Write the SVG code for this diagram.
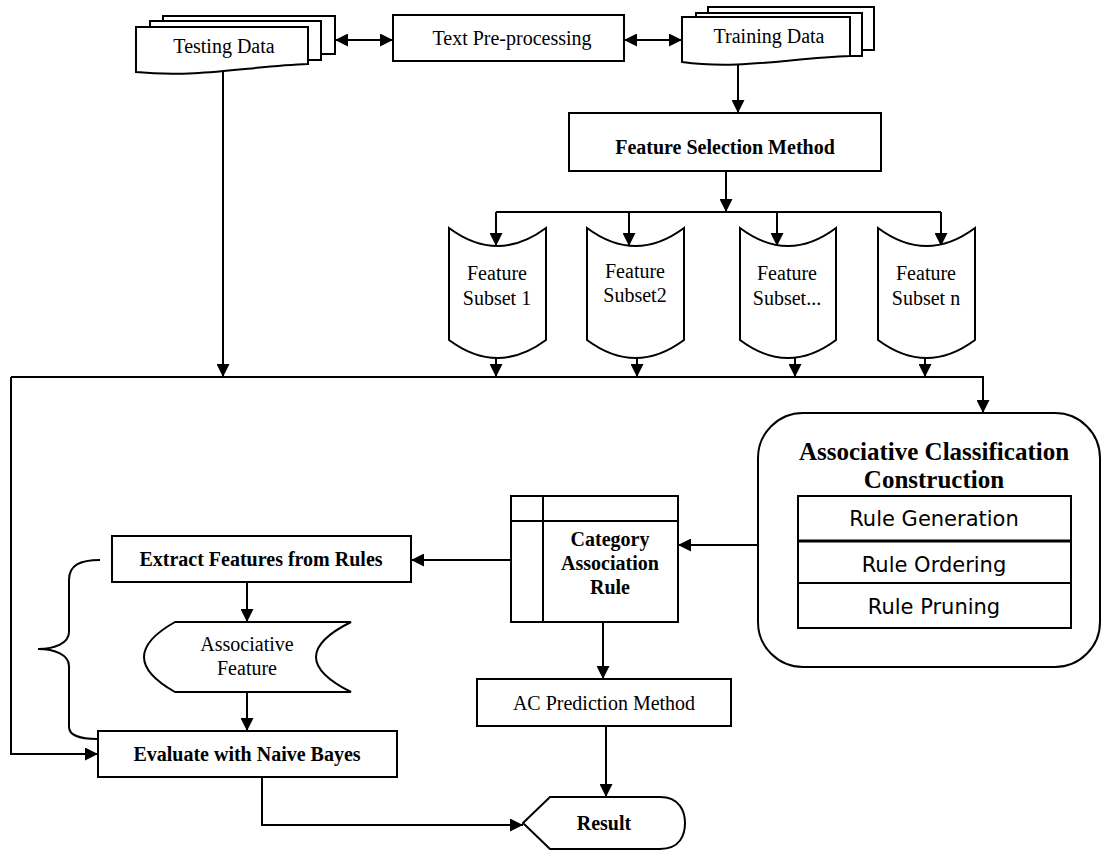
<svg xmlns="http://www.w3.org/2000/svg" width="1104" height="850" viewBox="0 0 1104 850">
<defs>
<marker id="ah" markerWidth="13" markerHeight="13" refX="13" refY="6.5" orient="auto-start-reverse" markerUnits="userSpaceOnUse"><path d="M0,0 L13,6.5 L0,13 z" fill="#000"/></marker>
<style>
.s{fill:#fff;stroke:#000;stroke-width:2}
.c{fill:none;stroke:#000;stroke-width:2}
.a{fill:none;stroke:#000;stroke-width:2;marker-end:url(#ah)}
.d{fill:none;stroke:#000;stroke-width:2;marker-start:url(#ah);marker-end:url(#ah)}
.t{font-family:"Liberation Serif","Times New Roman",serif;font-size:20px;fill:#000;text-anchor:middle}
.b{font-weight:bold}
.r{font-family:"DejaVu Sans","Open Sans",sans-serif;font-size:21px;fill:#000;text-anchor:middle}
</style>
</defs>
<rect width="1104" height="850" fill="#fff"/>
<g id="connectors">
<path class="d" d="M335,40 H393"/>
<path class="d" d="M624,40 H682"/>
<path class="a" d="M738,64 V113"/>
<path class="a" d="M726,171 V212"/>
<path class="c" d="M496,212 H941"/>
<path class="a" d="M496,212 V246"/>
<path class="a" d="M629,212 V246"/>
<path class="a" d="M777,212 V246"/>
<path class="a" d="M941,212 V246"/>
<path class="a" d="M223,72 V377"/>
<path class="a" d="M496,358 V377"/>
<path class="a" d="M637,358 V377"/>
<path class="a" d="M795,358 V377"/>
<path class="a" d="M925,358 V377"/>
<path class="a" d="M11,377 H983 V413"/>
<path class="a" d="M11,377 V754 H98"/>
<path class="a" d="M758,545 H678"/>
<path class="a" d="M511,560 H411"/>
<path class="a" d="M247,582 V622"/>
<path class="a" d="M247,692 V731"/>
<path class="a" d="M603,622 V679"/>
<path class="a" d="M606,726 V797"/>
<path class="a" d="M262,777 V825 H523"/>
<path class="c" d="M100,560 C80,560 69,565 69,580 V632 C69,643 55,649 38,649 C55,649 69,655 69,666 V727 C69,735 80,739 97,739"/>
</g>
<g id="testing-data">
<path class="s" d="M163,16 H335 V54 H163 Z"/>
<path class="s" d="M150,21 H321 V60 H150 Z"/>
<path class="s" d="M136,27 H308 V64 C250,66 200,78 136,72 Z"/>
<text class="t" x="224" y="53">Testing Data</text>
</g>
<g id="text-preprocessing">
<rect class="s" x="393" y="15" width="231" height="46"/>
<text class="t" x="512" y="45">Text Pre-processing</text>
</g>
<g id="training-data">
<path class="s" d="M708,7 H874 V50 H708 Z"/>
<path class="s" d="M696,13 H862 V56 H696 Z"/>
<path class="s" d="M682,17 H850 V56 C790,58 740,70 682,62 Z"/>
<text class="t" x="769" y="43">Training Data</text>
</g>
<g id="feature-selection">
<rect class="s" x="569" y="113" width="312" height="58"/>
<text class="t b" x="725" y="154">Feature Selection Method</text>
</g>
<g id="subset1">
<path class="s" d="M449,228 Q497.5,264 546,228 V340 Q497.5,376 449,340 Z"/>
<text class="t" x="497" y="280">Feature</text>
<text class="t" x="497" y="305">Subset 1</text>
</g>
<g id="subset2">
<path class="s" d="M587,228 Q635.5,264 684,228 V340 Q635.5,376 587,340 Z"/>
<text class="t" x="635" y="278">Feature</text>
<text class="t" x="635" y="302">Subset2</text>
</g>
<g id="subset3">
<path class="s" d="M740,228 Q788,264 836,228 V340 Q788,376 740,340 Z"/>
<text class="t" x="787" y="280">Feature</text>
<text class="t" x="787" y="305">Subset...</text>
</g>
<g id="subsetn">
<path class="s" d="M878,228 Q926.5,264 975,228 V340 Q926.5,376 878,340 Z"/>
<text class="t" x="926" y="280">Feature</text>
<text class="t" x="926" y="305">Subset n</text>
</g>
<g id="ac-construction">
<rect class="s" x="758" y="413" width="342" height="254" rx="45" ry="45"/>
<text class="t b" x="934" y="460" style="font-size:25px">Associative Classification</text>
<text class="t b" x="934" y="488" style="font-size:25px">Construction</text>
<rect class="s" x="798" y="496" width="273" height="132"/>
<path class="c" d="M798,541 H1071" style="stroke-width:3"/>
<path class="c" d="M798,583 H1071"/>
<text class="r" x="934" y="526">Rule Generation</text>
<text class="r" x="934" y="572">Rule Ordering</text>
<text class="r" x="934" y="614">Rule Pruning</text>
</g>
<g id="car">
<rect class="s" x="511" y="496" width="167" height="126"/>
<path class="c" d="M543,496 V622 M511,521 H678"/>
<text class="t b" x="610" y="546">Category</text>
<text class="t b" x="610" y="570">Association</text>
<text class="t b" x="610" y="594">Rule</text>
</g>
<g id="extract">
<rect class="s" x="112" y="536" width="299" height="46"/>
<text class="t b" x="261" y="566">Extract Features from Rules</text>
</g>
<g id="assoc-feature">
<path class="s" d="M175,622 H351 Q281,657 351,692 H175 Q113,657 175,622 Z"/>
<text class="t" x="247" y="651">Associative</text>
<text class="t" x="247" y="675">Feature</text>
</g>
<g id="evaluate">
<rect class="s" x="98" y="731" width="299" height="46"/>
<text class="t b" x="247" y="761">Evaluate with Naive Bayes</text>
</g>
<g id="ac-prediction">
<rect class="s" x="477" y="679" width="254" height="47"/>
<text class="t" x="604" y="710">AC Prediction Method</text>
</g>
<g id="result">
<path class="s" d="M523,823 L550,797 H660 C680,797 685,812 685,823 C685,835 680,849 660,849 H550 Z"/>
<text class="t b" x="604" y="830">Result</text>
</g>
</svg>
